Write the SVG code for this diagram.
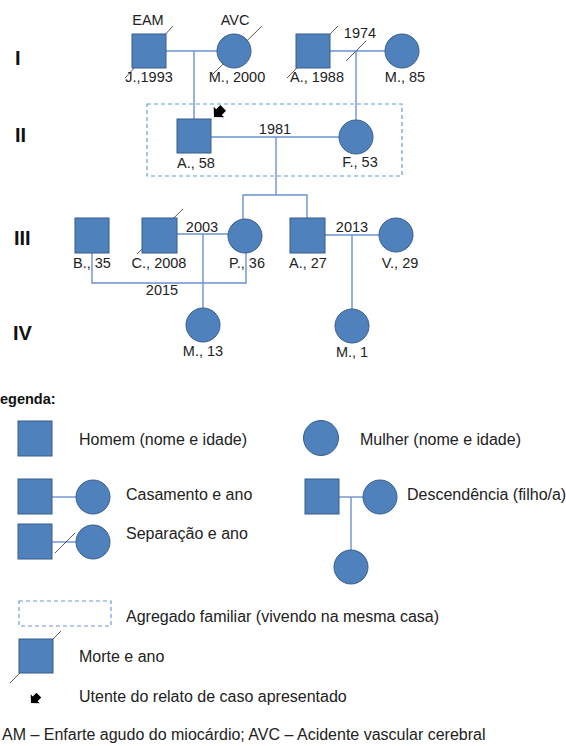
<svg xmlns="http://www.w3.org/2000/svg" width="566" height="746" viewBox="0 0 566 746">
<style>
.m{fill:#4F81BD;stroke:#385D8A;stroke-width:1}
.c{stroke:#6A93CF;stroke-width:1.4;fill:none}
.d{stroke:#595959;stroke-width:1;fill:none}
.box{stroke:#6A9AD8;stroke-width:1.2;stroke-dasharray:4 3;fill:none}
.t{font-family:"Liberation Sans",Arial,sans-serif;font-size:14.5px;fill:#222;text-anchor:middle}
.l{font-family:"Liberation Sans",Arial,sans-serif;font-size:16px;fill:#222}
.g{font-family:"Liberation Sans",Arial,sans-serif;font-size:20px;font-weight:bold;fill:#111}
.b{font-family:"Liberation Sans",Arial,sans-serif;font-size:14.5px;font-weight:bold;fill:#111}
</style>
<defs>
<polygon id="arrow" points="0,0 7,-7.5 7,-4 13,-4 13,4 7,4 7,7.5" fill="#000"/>
</defs>

<g id="generations">
<text class="g" x="15" y="65">I</text>
<text class="g" x="15" y="142">II</text>
<text class="g" x="14" y="245">III</text>
<text class="g" x="13" y="340">IV</text>
</g>

<rect id="household" class="box" x="147" y="104" width="255" height="72"/>

<g id="connectors">
<line class="c" x1="166" y1="51" x2="217" y2="51"/>
<line class="c" x1="194" y1="51" x2="194" y2="119"/>
<line class="c" x1="330" y1="51" x2="385" y2="51"/>
<line class="d" x1="346" y1="61" x2="366" y2="41"/>
<line class="c" x1="356" y1="51" x2="356" y2="120"/>
<line class="c" x1="211" y1="137" x2="339" y2="137"/>
<polyline class="c" points="243,219 243,195 307,195 307,218"/>
<line class="c" x1="276" y1="137" x2="276" y2="195"/>
<line class="c" x1="177" y1="234" x2="228" y2="234"/>
<line class="c" x1="203" y1="234" x2="203" y2="308"/>
<polyline class="c" points="92,253 92,283 246,283 246,253"/>
<line class="c" x1="325" y1="235" x2="379" y2="235"/>
<line class="c" x1="352" y1="235" x2="352" y2="309"/>
</g>

<g id="labels-years">
<text class="t" x="360" y="38">1974</text>
<text class="t" x="275" y="134">1981</text>
<text class="t" x="202" y="232">2003</text>
<text class="t" x="162" y="295">2015</text>
<text class="t" x="352" y="232">2013</text>
</g>

<g id="I-J">
<line class="d" x1="125" y1="78" x2="173" y2="26"/>
<rect class="m" x="132" y="34" width="34" height="34"/>
<text class="t" x="148" y="25">EAM</text>
<text class="t" x="149" y="82">J.,1993</text>
</g>
<g id="I-M">
<line class="d" x1="213" y1="74" x2="262" y2="26"/>
<circle class="m" cx="234" cy="51" r="17"/>
<text class="t" x="235" y="25">AVC</text>
<text class="t" x="237" y="82">M., 2000</text>
</g>
<g id="I-A">
<line class="d" x1="287" y1="78" x2="338" y2="26"/>
<rect class="m" x="296" y="34" width="34" height="34"/>
<text class="t" x="317" y="82">A., 1988</text>
</g>
<g id="I-M2">
<circle class="m" cx="402" cy="51" r="17"/>
<text class="t" x="405" y="82">M., 85</text>
</g>

<g id="II-A">
<rect class="m" x="177" y="119" width="34" height="34"/>
<text class="t" x="196" y="168">A., 58</text>
<use href="#arrow" transform="translate(214,117) rotate(-45)"/>
</g>
<g id="II-F">
<circle class="m" cx="356" cy="137" r="17"/>
<text class="t" x="360" y="167">F., 53</text>
</g>

<g id="III-B">
<rect class="m" x="75" y="218" width="34" height="35"/>
<text class="t" x="92" y="268">B., 35</text>
</g>
<g id="III-C">
<line class="d" x1="137" y1="254" x2="183" y2="209"/>
<rect class="m" x="142" y="218" width="35" height="35"/>
<text class="t" x="159" y="268">C., 2008</text>
</g>
<g id="III-P">
<circle class="m" cx="245" cy="236" r="17"/>
<text class="t" x="247" y="268">P., 36</text>
</g>
<g id="III-A">
<rect class="m" x="290" y="218" width="35" height="35"/>
<text class="t" x="308" y="268">A., 27</text>
</g>
<g id="III-V">
<circle class="m" cx="396" cy="235" r="17"/>
<text class="t" x="400" y="268">V., 29</text>
</g>

<g id="IV-M13">
<circle class="m" cx="203" cy="325" r="17"/>
<text class="t" x="203" y="356">M., 13</text>
</g>
<g id="IV-M1">
<circle class="m" cx="352" cy="326" r="17"/>
<text class="t" x="352" y="357">M., 1</text>
</g>

<g id="legend">
<text class="b" x="0" y="404">egenda:</text>

<rect class="m" x="18" y="421" width="34" height="35"/>
<text class="l" x="79" y="445">Homem (nome e idade)</text>

<circle class="m" cx="321" cy="438" r="17.5"/>
<text class="l" x="360" y="445">Mulher (nome e idade)</text>

<line class="c" x1="52" y1="497" x2="76" y2="497"/>
<rect class="m" x="18" y="479" width="34" height="35"/>
<circle class="m" cx="93" cy="497" r="17"/>
<text class="l" x="126" y="500">Casamento e ano</text>

<line class="c" x1="52" y1="542" x2="76" y2="542"/>
<line class="d" x1="55" y1="553" x2="75" y2="533"/>
<rect class="m" x="18" y="524" width="34" height="35"/>
<circle class="m" cx="93" cy="542" r="17"/>
<text class="l" x="126" y="539">Separação e ano</text>

<line class="c" x1="339" y1="497" x2="363" y2="497"/>
<line class="c" x1="351" y1="497" x2="351" y2="550"/>
<rect class="m" x="305" y="479" width="34" height="35"/>
<circle class="m" cx="380" cy="497" r="17"/>
<circle class="m" cx="351" cy="567" r="17"/>
<text class="l" x="407" y="500">Descendência (filho/a)</text>

<rect class="box" x="19" y="601" width="92" height="25"/>
<text class="l" x="126" y="622">Agregado familiar (vivendo na mesma casa)</text>

<line class="d" x1="10" y1="683" x2="61" y2="631"/>
<rect class="m" x="19" y="639" width="34" height="34"/>
<text class="l" x="79" y="662">Morte e ano</text>

<use href="#arrow" transform="translate(31,703) rotate(-45) scale(0.85)"/>
<text class="l" x="79" y="702">Utente do relato de caso apresentado</text>

<text class="l" x="2" y="740">AM – Enfarte agudo do miocárdio; AVC – Acidente vascular cerebral</text>
</g>
</svg>
